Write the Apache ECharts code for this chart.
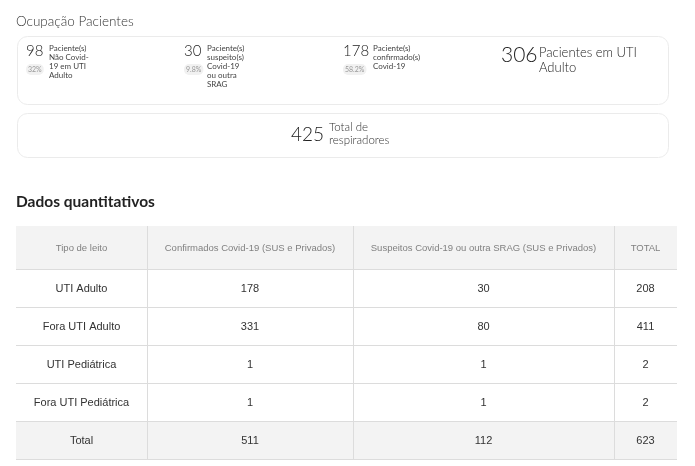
<!DOCTYPE html>
<html>
<head>
<meta charset="utf-8">
<script src="https://cdn.jsdelivr.net/npm/echarts@6/dist/echarts.min.js"></script>
<style>
html,body{margin:0;padding:0;background:#fff;}
#main{width:695px;height:466px;}
</style>
</head>
<body>
<div id="main"></div>
<script>
// ocupacao (cartao de cima)
var ocupValores = [98, 30, 178];
var ocupPercent = ['32%', '9.8%', '58.2%'];
var ocupRotulos = [
    'Paciente(s)\nNão Covid-\n19 em UTI\nAdulto',
    'Paciente(s)\nsuspeito(s)\nCovid-19\nou outra\nSRAG',
    'Paciente(s)\nconfirmado(s)\nCovid-19'
];
var totalUti = 306;
var totalUtiRotulo = 'Pacientes em UTI\nAdulto';
var respiradores = 425;
var respiradoresRotulo = 'Total de\nrespiradores';

// tabela
var cabecalho = ['Tipo de leito', 'Confirmados Covid-19 (SUS e Privados)', 'Suspeitos Covid-19 ou outra SRAG (SUS e Privados)', 'TOTAL'];
var tiposLeito = ['UTI Adulto', 'Fora UTI Adulto', 'UTI Pediátrica', 'Fora UTI Pediátrica', 'Total'];
var confirmados = [178, 331, 1, 1, 511];
var suspeitos = [30, 80, 1, 1, 112];
var totais = [208, 411, 2, 2, 623];

// layout
var itemX = [26, 184, 343];
var rotuloX = [49, 207, 373];
var colEdges = [0, 131, 337, 598, 661];
var rowEdges = [0, 44, 82, 120, 158, 196, 234];

var cells = [];
var cellText = [];
for (var c = 0; c < 4; c++) {
    cells.push([c, 0]);
    cellText.push(cabecalho[c]);
}
for (var r = 0; r < tiposLeito.length; r++) {
    var row = [tiposLeito[r], confirmados[r], suspeitos[r], totais[r]];
    for (var c = 0; c < 4; c++) {
        cells.push([c, r + 1]);
        cellText.push(String(row[c]));
    }
}

var graphics = [];
graphics.push({
    type: 'text', left: 16, top: 15,
    style: {text: 'Ocupação Pacientes', font: '300 13.5px Lato', fill: '#333'}
});
graphics.push({
    type: 'rect', shape: {x: 17.5, y: 36.5, width: 651, height: 68, r: 10},
    style: {fill: '#fff', stroke: '#ebebeb', lineWidth: 1}
});
graphics.push({
    type: 'rect', shape: {x: 17.5, y: 113.5, width: 651, height: 44, r: 10},
    style: {fill: '#fff', stroke: '#ebebeb', lineWidth: 1}
});
for (var i = 0; i < ocupValores.length; i++) {
    graphics.push({
        type: 'text', x: itemX[i], y: 44,
        style: {text: String(ocupValores[i]), font: '300 15px Lato', fill: '#222'}
    });
    graphics.push({
        type: 'text', x: itemX[i], y: 64,
        style: {text: ocupPercent[i], font: '7px Lato', fill: '#999',
            backgroundColor: '#f1f1f1', padding: [2, 2], borderRadius: 5}
    });
    graphics.push({
        type: 'text', x: rotuloX[i], y: 44,
        style: {text: ocupRotulos[i], font: '8px Lato', fill: '#444', lineHeight: 9}
    });
}
graphics.push({
    type: 'text', x: 501, y: 45,
    style: {text: String(totalUti), font: '300 21px Lato', fill: '#222'}
});
graphics.push({
    type: 'text', x: 539, y: 45,
    style: {text: totalUtiRotulo, font: '300 13px Lato', fill: '#222', lineHeight: 15}
});
graphics.push({
    type: 'text', x: 291, y: 125,
    style: {text: String(respiradores), font: '300 19px Lato', fill: '#222'}
});
graphics.push({
    type: 'text', x: 329, y: 121,
    style: {text: respiradoresRotulo, font: '300 11.5px Lato', fill: '#333', lineHeight: 13}
});
graphics.push({
    type: 'text', left: 16, top: 194,
    style: {text: 'Dados quantitativos', font: 'bold 15.5px Lato', fill: '#222'}
});

var myChart = echarts.init(document.getElementById('main'));
var option = {
    animation: false,
    graphic: graphics,
    grid: {left: 16, top: 226, width: 661, height: 234},
    xAxis: {type: 'value', min: 0, max: 661, show: false},
    yAxis: {type: 'value', min: 0, max: 234, inverse: true, show: false},
    series: [{
        type: 'custom',
        data: cells,
        encode: {x: 0, y: 1},
        renderItem: function (params, api) {
            var c = api.value(0), r = api.value(1);
            var p0 = api.coord([colEdges[c], rowEdges[r]]);
            var p1 = api.coord([colEdges[c + 1], rowEdges[r + 1]]);
            var w = p1[0] - p0[0], h = p1[1] - p0[1];
            var header = r === 0;
            var shade = header || r === rowEdges.length - 2;
            var children = [{
                type: 'rect',
                shape: {x: p0[0], y: p0[1], width: w, height: h},
                style: {fill: shade ? '#f3f3f3' : '#fff'}
            }, {
                type: 'line',
                shape: {x1: p0[0], y1: Math.round(p1[1]) - 0.5, x2: p1[0], y2: Math.round(p1[1]) - 0.5},
                style: {stroke: '#dcdcdc', lineWidth: 1}
            }];
            if (c > 0) {
                children.push({
                    type: 'line',
                    shape: {x1: Math.round(p0[0]) + 0.5, y1: p0[1], x2: Math.round(p0[0]) + 0.5, y2: p1[1]},
                    style: {stroke: '#dcdcdc', lineWidth: 1}
                });
            }
            children.push({
                type: 'text',
                x: (p0[0] + p1[0]) / 2, y: (p0[1] + p1[1]) / 2,
                style: {
                    text: cellText[params.dataIndex],
                    font: header ? '9.5px "Liberation Sans"' : '11px "Liberation Sans"',
                    fill: header ? '#808080' : '#333',
                    align: 'center', verticalAlign: 'middle'
                }
            });
            return {type: 'group', children: children};
        }
    }]
};
myChart.setOption(option);
</script>
</body>
</html>
